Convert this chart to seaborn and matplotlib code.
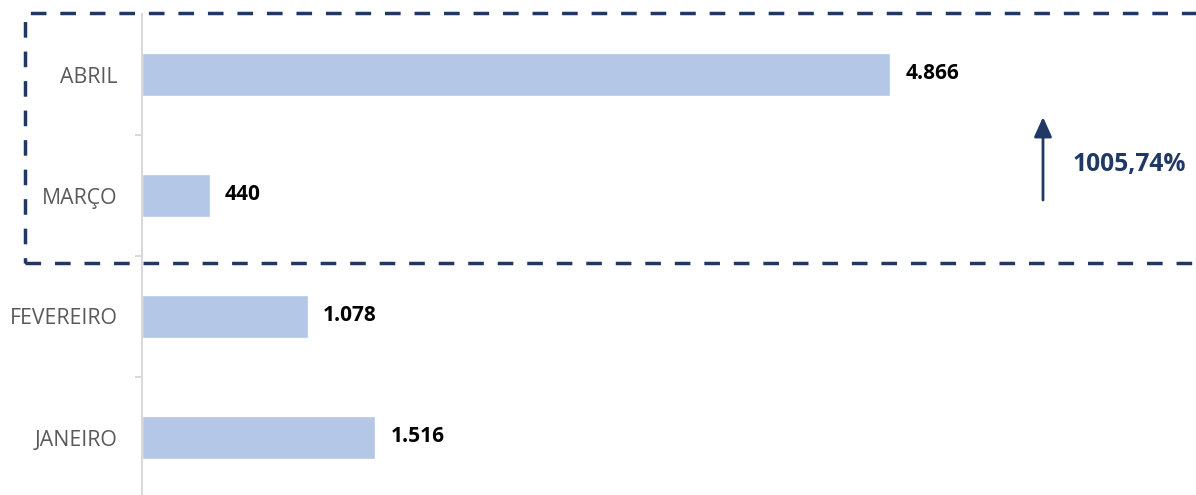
import matplotlib
matplotlib.use("Agg")
import matplotlib.pyplot as plt
import seaborn as sns
import pandas as pd
from matplotlib.patches import Rectangle
from matplotlib.ticker import FixedLocator

# ---- data ----
months = ["ABRIL", "MARÇO", "FEVEREIRO", "JANEIRO"]
values = [4866, 440, 1078, 1516]
growth_label = "1005,74%"

BAR = "#b4c7e7"
NAVY = "#203864"
GRID = "#d9d9d9"
LABEL = "#595959"

sns.set_theme(style="white")
plt.rcParams['font.family'] = ['Open Sans', 'DejaVu Sans']

W, H = 1196, 495
fig = plt.figure(figsize=(W / 100, H / 100), dpi=100)
ax = fig.add_axes([142 / W, 1 - 498 / H, 1 - 142 / W, (498 - 14) / H])

df = pd.DataFrame({"mes": months, "valor": values})
sns.barplot(data=df, y="mes", x="valor", orient="h", color=BAR,
            saturation=1, width=0.36, ax=ax)

scale = 748 / 4866  # px per unit
ax.set_xlim(0, (W - 142) / scale)
ax.set_ylim(len(months) - 0.5, -0.5)
ax.set_xlabel("")
ax.set_ylabel("")

for s in ["top", "right", "bottom"]:
    ax.spines[s].set_visible(False)
ax.spines["left"].set_color(GRID)
ax.spines["left"].set_linewidth(1.5)

ax.set_xticks([])
ax.tick_params(axis="y", which="major", length=0, pad=17.5, labelsize=15.3,
               labelcolor=LABEL)
ax.yaxis.set_minor_locator(FixedLocator([i + 0.5 for i in range(len(months) - 1)]))
ax.tick_params(axis="y", which="minor", length=5, width=1.5, color=GRID, left=True)

for i, v in enumerate(values):
    ax.annotate(f"{v:,}".replace(",", "."), xy=(v, i), xytext=(11, 1),
                textcoords="offset points", va="center", ha="left",
                fontsize=15, fontweight="bold", color="black")

# dashed highlight box
rect = Rectangle((25 / W, 1 - 263 / H), 1.1, 250 / H, transform=fig.transFigure,
                 fill=False, edgecolor=NAVY, lw=2.5, linestyle=(0, (4.5, 4)),
                 clip_on=False)
fig.patches.append(rect)

# arrow and growth label
ax.annotate("", xy=(1043, H - 117), xytext=(1043, H - 200), xycoords="figure pixels",
            textcoords="figure pixels",
            arrowprops=dict(arrowstyle="-|>,head_length=0.6,head_width=0.27",
                            mutation_scale=20, lw=2, color=NAVY,
                            shrinkA=0, shrinkB=0))
fig.text(1073 / W, 1 - 165 / H, growth_label, ha="left", va="center",
         fontsize=17.7, fontweight="bold", color=NAVY)

fig.savefig("out.png", dpi=100)
